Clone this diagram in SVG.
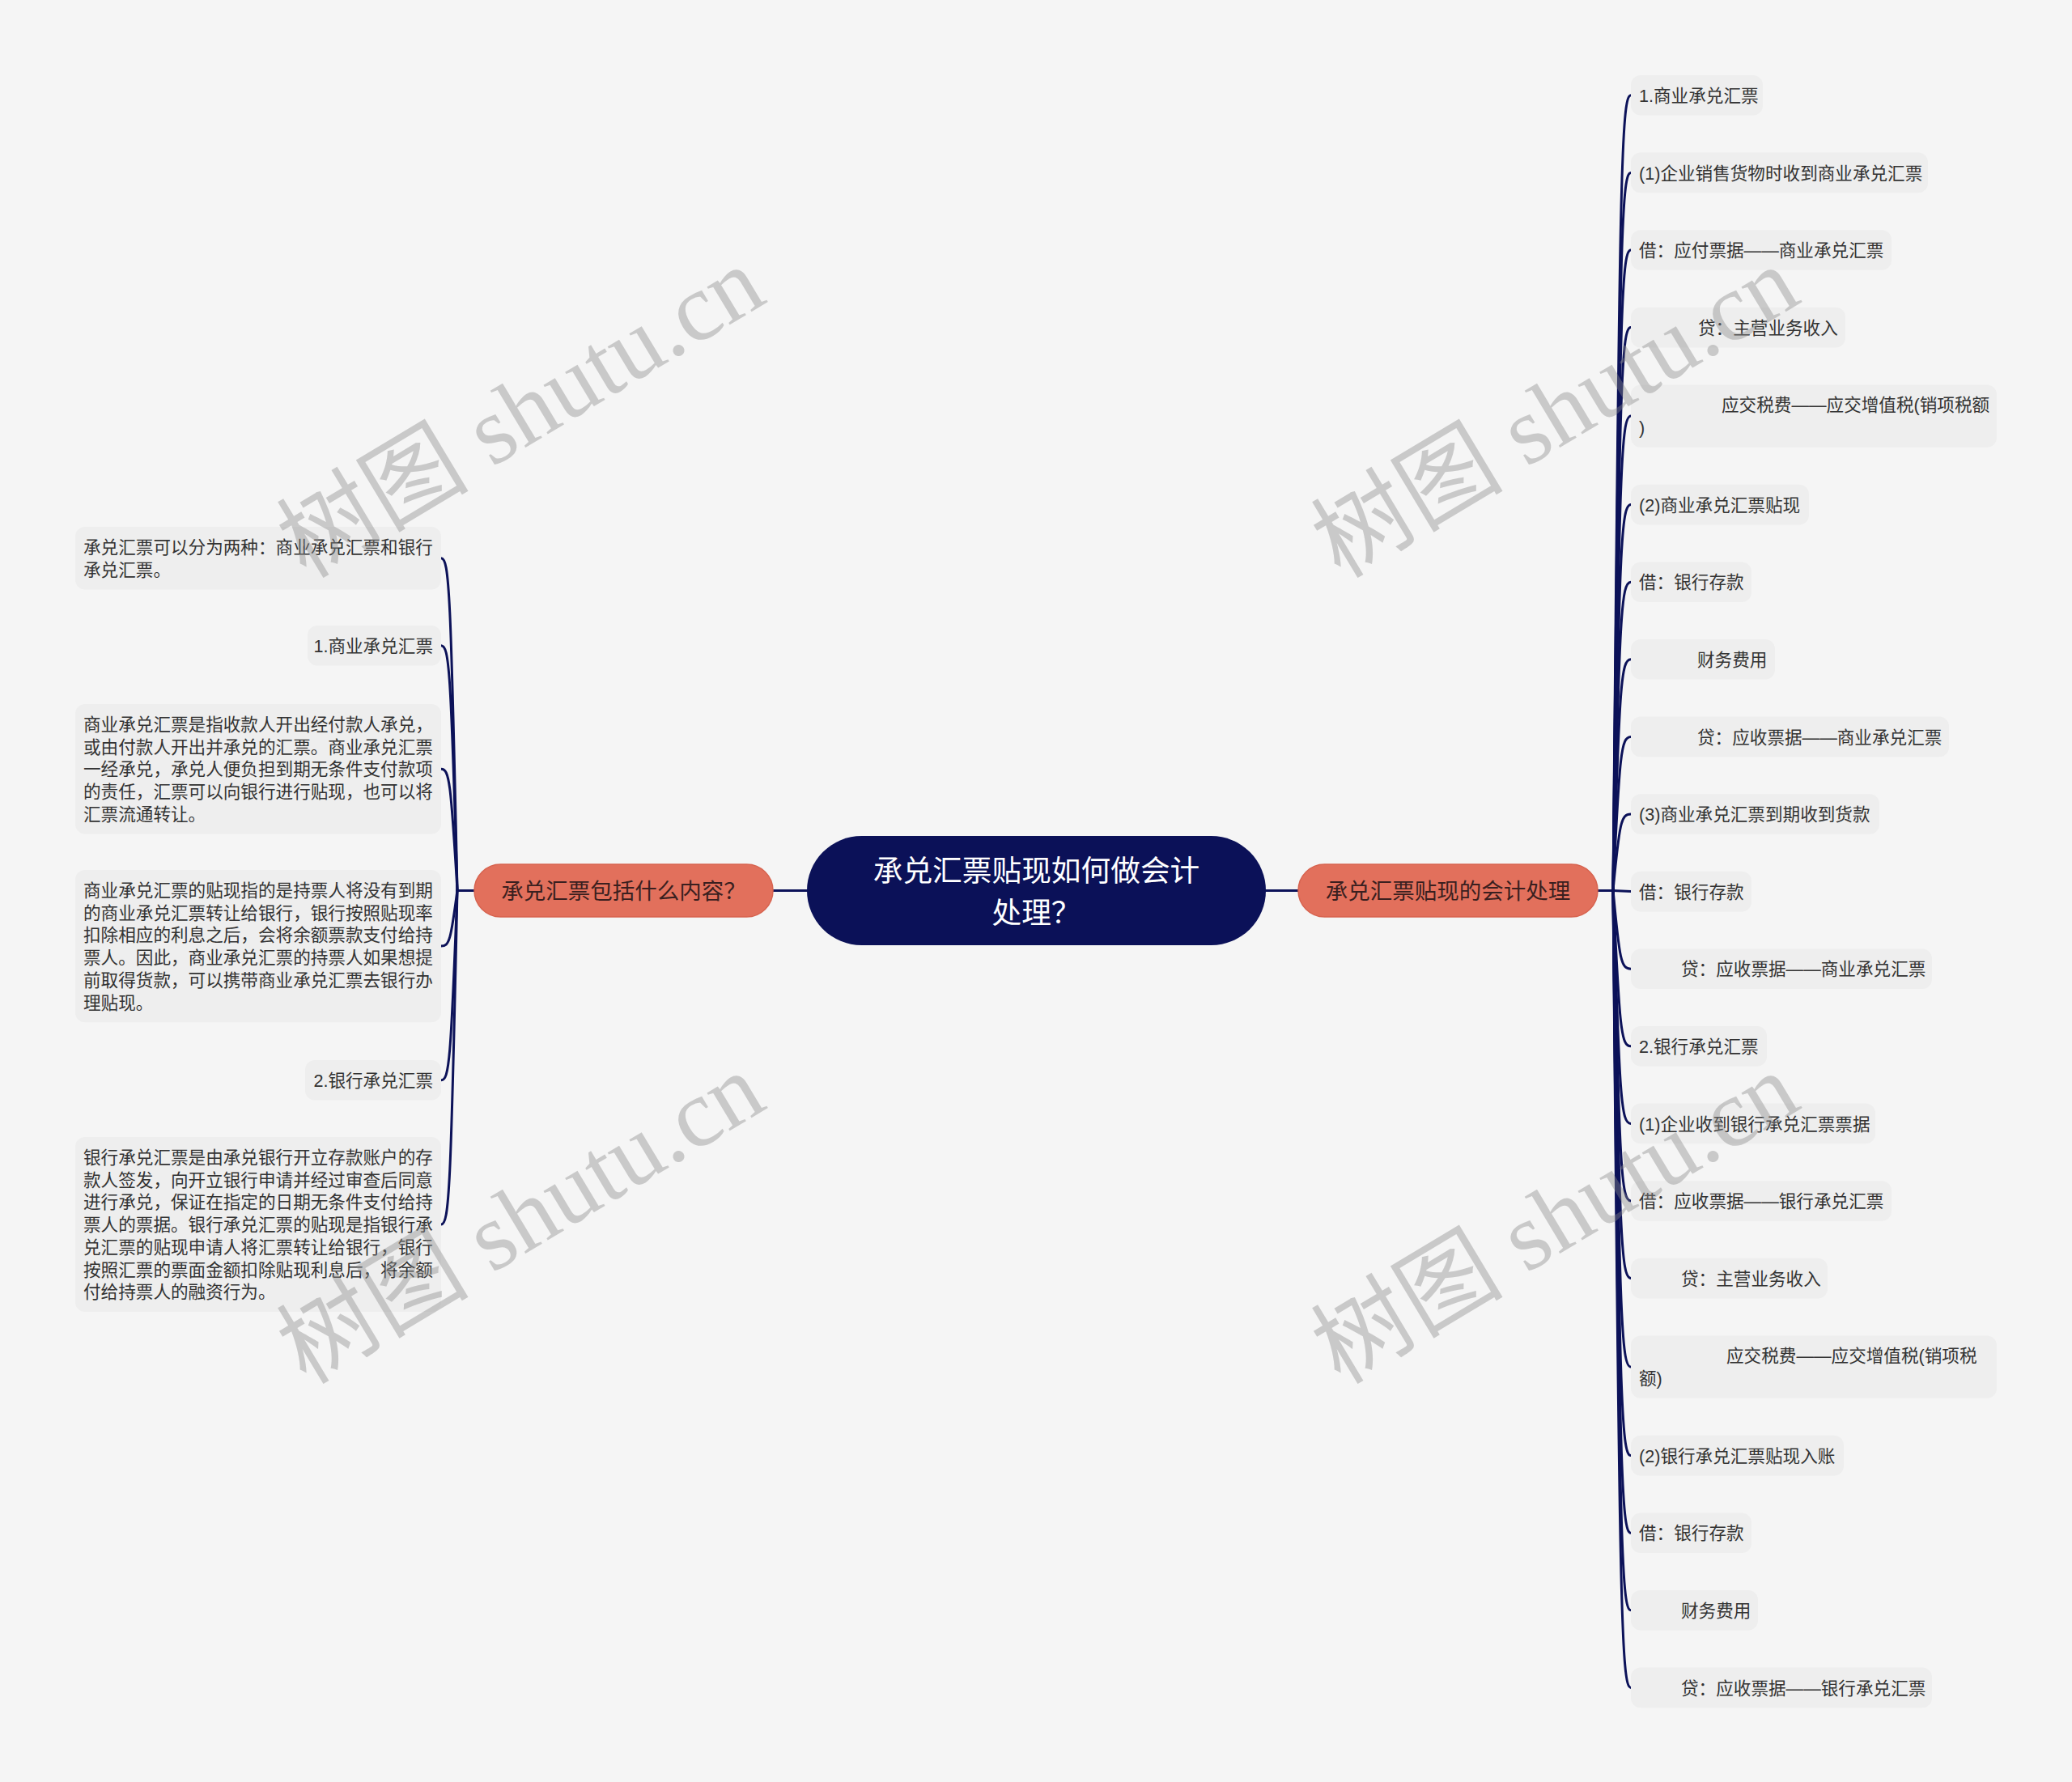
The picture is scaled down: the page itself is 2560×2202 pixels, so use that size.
<svg xmlns="http://www.w3.org/2000/svg" width="2560" height="2202" viewBox="0 0 2560 2202">
<style>
.bg{fill:#f5f5f5}
.ln{fill:none;stroke:#0c1259;stroke-width:3;stroke-linecap:round}
.box{fill:#eeeeee}
.t{font-family:"Liberation Sans","Noto Sans CJK SC",sans-serif;font-size:21.6px;fill:#333333}
.pill{fill:#e2705c;stroke:#d7634f;stroke-width:1.5}
.pt{font-family:"Liberation Sans","Noto Sans CJK SC",sans-serif;font-size:27.5px;fill:#3a1f1f;text-anchor:middle}
.ct{font-family:"Liberation Sans","Noto Sans CJK SC",sans-serif;font-size:36.7px;fill:#ffffff;text-anchor:middle}
.wm{font-family:"Liberation Serif","Noto Sans CJK SC",serif;font-size:119px;fill:#8a8a8a;opacity:0.4}
</style>
<rect class="bg" x="0" y="0" width="2560" height="2202"/>

<g id="connectors">
<path class="ln" d="M565 1100.5H586"/>
<path class="ln" d="M955 1100.5H997"/>
<path class="ln" d="M1564 1100.5H1604"/>
<path class="ln" d="M1974 1100.5H1993"/>
<!-- left -->
<path class="ln" d="M565 1100C557 730.7 555 689.7 545 689.7"/>
<path class="ln" d="M565 1100C557 828 555 797.8 545 797.8"/>
<path class="ln" d="M565 1100C557 965.3 555 950.3 545 950.3"/>
<path class="ln" d="M565 1100C557 1162.2 555 1169.1 545 1169.1"/>
<path class="ln" d="M565 1100C557 1311.3 555 1334.8 545 1334.8"/>
<path class="ln" d="M565 1100C557 1471.7 555 1513 545 1513"/>
<!-- right -->
<path class="ln" d="M1993 1100C2001 216 2003 117.8 2015 117.8"/>
<path class="ln" d="M1993 1100C2001 302.1 2003 213.4 2015 213.4"/>
<path class="ln" d="M1993 1100C2001 388.1 2003 309 2015 309"/>
<path class="ln" d="M1993 1100C2001 474.1 2003 404.6 2015 404.6"/>
<path class="ln" d="M1993 1100C2001 572.7 2003 514.1 2015 514.1"/>
<path class="ln" d="M1993 1100C2001 671.2 2003 623.6 2015 623.6"/>
<path class="ln" d="M1993 1100C2001 757.3 2003 719.2 2015 719.2"/>
<path class="ln" d="M1993 1100C2001 843.3 2003 814.8 2015 814.8"/>
<path class="ln" d="M1993 1100C2001 929.4 2003 910.4 2015 910.4"/>
<path class="ln" d="M1993 1100C2001 1015.4 2003 1006 2015 1006"/>
<path class="ln" d="M1993 1100.5L2015 1101.6"/>
<path class="ln" d="M1993 1100C2001 1187.5 2003 1197.2 2015 1197.2"/>
<path class="ln" d="M1993 1100C2001 1273.5 2003 1292.8 2015 1292.8"/>
<path class="ln" d="M1993 1100C2001 1359.6 2003 1388.4 2015 1388.4"/>
<path class="ln" d="M1993 1100C2001 1445.6 2003 1484 2015 1484"/>
<path class="ln" d="M1993 1100C2001 1531.6 2003 1579.6 2015 1579.6"/>
<path class="ln" d="M1993 1100C2001 1630.2 2003 1689.1 2015 1689.1"/>
<path class="ln" d="M1993 1100C2001 1728.7 2003 1798.6 2015 1798.6"/>
<path class="ln" d="M1993 1100C2001 1814.8 2003 1894.2 2015 1894.2"/>
<path class="ln" d="M1993 1100C2001 1900.8 2003 1989.8 2015 1989.8"/>
<path class="ln" d="M1993 1100C2001 1986.9 2003 2085.4 2015 2085.4"/>
</g>

<g id="root">
<rect x="997" y="1033" width="567" height="135" rx="67.5" fill="#0b1158"/>
<text class="ct" x="1280.5" y="1089">承兑汇票贴现如何做会计</text>
<text class="ct" x="1280.5" y="1141">处理？</text>
</g>

<g id="branch-left">
<rect class="pill" x="586" y="1068" width="369" height="65" rx="32.5"/>
<text class="pt" x="770.5" y="1111">承兑汇票包括什么内容？</text>
</g>

<g id="branch-right">
<rect class="pill" x="1604" y="1068" width="370" height="65" rx="32.5"/>
<text class="pt" x="1789" y="1111">承兑汇票贴现的会计处理</text>
</g>

<!-- left children -->
<g id="l1"><rect class="box" x="93" y="651" width="452" height="77.4" rx="12"/>
<text class="t" x="103" y="684">承兑汇票可以分为两种：商业承兑汇票和银行</text>
<text class="t" x="103" y="711.7">承兑汇票。</text></g>
<g id="l2"><rect class="box" x="380" y="773" width="165" height="49.6" rx="12"/>
<text class="t" x="535" y="806" text-anchor="end">1.商业承兑汇票</text></g>
<g id="l3"><rect class="box" x="93" y="870" width="452" height="160.5" rx="12"/>
<text class="t" x="103" y="903">商业承兑汇票是指收款人开出经付款人承兑，</text>
<text class="t" x="103" y="930.7">或由付款人开出并承兑的汇票。商业承兑汇票</text>
<text class="t" x="103" y="958.4">一经承兑，承兑人便负担到期无条件支付款项</text>
<text class="t" x="103" y="986.1">的责任，汇票可以向银行进行贴现，也可以将</text>
<text class="t" x="103" y="1013.8">汇票流通转让。</text></g>
<g id="l4"><rect class="box" x="93" y="1075" width="452" height="188.2" rx="12"/>
<text class="t" x="103" y="1108">商业承兑汇票的贴现指的是持票人将没有到期</text>
<text class="t" x="103" y="1135.7">的商业承兑汇票转让给银行，银行按照贴现率</text>
<text class="t" x="103" y="1163.4">扣除相应的利息之后，会将余额票款支付给持</text>
<text class="t" x="103" y="1191.1">票人。因此，商业承兑汇票的持票人如果想提</text>
<text class="t" x="103" y="1218.8">前取得货款，可以携带商业承兑汇票去银行办</text>
<text class="t" x="103" y="1246.5">理贴现。</text></g>
<g id="l5"><rect class="box" x="377" y="1310" width="168" height="49.6" rx="12"/>
<text class="t" x="535" y="1343" text-anchor="end">2.银行承兑汇票</text></g>
<g id="l6"><rect class="box" x="93" y="1405" width="452" height="215.9" rx="12"/>
<text class="t" x="103" y="1438">银行承兑汇票是由承兑银行开立存款账户的存</text>
<text class="t" x="103" y="1465.7">款人签发，向开立银行申请并经过审查后同意</text>
<text class="t" x="103" y="1493.4">进行承兑，保证在指定的日期无条件支付给持</text>
<text class="t" x="103" y="1521.1">票人的票据。银行承兑汇票的贴现是指银行承</text>
<text class="t" x="103" y="1548.8">兑汇票的贴现申请人将汇票转让给银行，银行</text>
<text class="t" x="103" y="1576.5">按照汇票的票面金额扣除贴现利息后，将余额</text>
<text class="t" x="103" y="1604.2">付给持票人的融资行为。</text></g>

<!-- right children -->
<g id="r1"><rect class="box" x="2015" y="93" width="163" height="49.6" rx="12"/><text class="t" x="2025" y="126">1.商业承兑汇票</text></g>
<g id="r2"><rect class="box" x="2015" y="188.6" width="367" height="49.6" rx="12"/><text class="t" x="2025" y="221.6">(1)企业销售货物时收到商业承兑汇票</text></g>
<g id="r3"><rect class="box" x="2015" y="284.2" width="322" height="49.6" rx="12"/><text class="t" x="2025" y="317.2">借：应付票据——商业承兑汇票</text></g>
<g id="r4"><rect class="box" x="2015" y="379.8" width="265" height="49.6" rx="12"/><text class="t" x="2098" y="412.8">贷：主营业务收入</text></g>
<g id="r5"><rect class="box" x="2015" y="475.4" width="452" height="77.4" rx="12"/><text class="t" x="2127" y="508.4">应交税费——应交增值税(销项税额</text><text class="t" x="2025" y="536.1">)</text></g>
<g id="r6"><rect class="box" x="2015" y="598.8" width="220" height="49.6" rx="12"/><text class="t" x="2025" y="631.8">(2)商业承兑汇票贴现</text></g>
<g id="r7"><rect class="box" x="2015" y="694.4" width="149" height="49.6" rx="12"/><text class="t" x="2025" y="727.4">借：银行存款</text></g>
<g id="r8"><rect class="box" x="2015" y="790" width="178" height="49.6" rx="12"/><text class="t" x="2097" y="823">财务费用</text></g>
<g id="r9"><rect class="box" x="2015" y="885.6" width="393" height="49.6" rx="12"/><text class="t" x="2097" y="918.6">贷：应收票据——商业承兑汇票</text></g>
<g id="r10"><rect class="box" x="2015" y="981.2" width="307" height="49.6" rx="12"/><text class="t" x="2025" y="1014.2">(3)商业承兑汇票到期收到货款</text></g>
<g id="r11"><rect class="box" x="2015" y="1076.8" width="149" height="49.6" rx="12"/><text class="t" x="2025" y="1109.8">借：银行存款</text></g>
<g id="r12"><rect class="box" x="2015" y="1172.4" width="372" height="49.6" rx="12"/><text class="t" x="2077" y="1205.4">贷：应收票据——商业承兑汇票</text></g>
<g id="r13"><rect class="box" x="2015" y="1268" width="168" height="49.6" rx="12"/><text class="t" x="2025" y="1301">2.银行承兑汇票</text></g>
<g id="r14"><rect class="box" x="2015" y="1363.6" width="302" height="49.6" rx="12"/><text class="t" x="2025" y="1396.6">(1)企业收到银行承兑汇票票据</text></g>
<g id="r15"><rect class="box" x="2015" y="1459.2" width="322" height="49.6" rx="12"/><text class="t" x="2025" y="1492.2">借：应收票据——银行承兑汇票</text></g>
<g id="r16"><rect class="box" x="2015" y="1554.8" width="243" height="49.6" rx="12"/><text class="t" x="2077" y="1587.8">贷：主营业务收入</text></g>
<g id="r17"><rect class="box" x="2015" y="1650.4" width="452" height="77.4" rx="12"/><text class="t" x="2133" y="1683.4">应交税费——应交增值税(销项税</text><text class="t" x="2025" y="1711.1">额)</text></g>
<g id="r18"><rect class="box" x="2015" y="1773.8" width="263" height="49.6" rx="12"/><text class="t" x="2025" y="1806.8">(2)银行承兑汇票贴现入账</text></g>
<g id="r19"><rect class="box" x="2015" y="1869.4" width="149" height="49.6" rx="12"/><text class="t" x="2025" y="1902.4">借：银行存款</text></g>
<g id="r20"><rect class="box" x="2015" y="1965" width="157" height="49.6" rx="12"/><text class="t" x="2077" y="1998">财务费用</text></g>
<g id="r21"><rect class="box" x="2015" y="2060.6" width="372" height="49.6" rx="12"/><text class="t" x="2077" y="2093.6">贷：应收票据——银行承兑汇票</text></g>

<g id="watermark">
<text class="wm" transform="translate(378 716) rotate(-31)">树图 shutu.cn</text>
<text class="wm" transform="translate(1656 716) rotate(-31)">树图 shutu.cn</text>
<text class="wm" transform="translate(378 1712) rotate(-31)">树图 shutu.cn</text>
<text class="wm" transform="translate(1656 1712) rotate(-31)">树图 shutu.cn</text>
</g>
</svg>
